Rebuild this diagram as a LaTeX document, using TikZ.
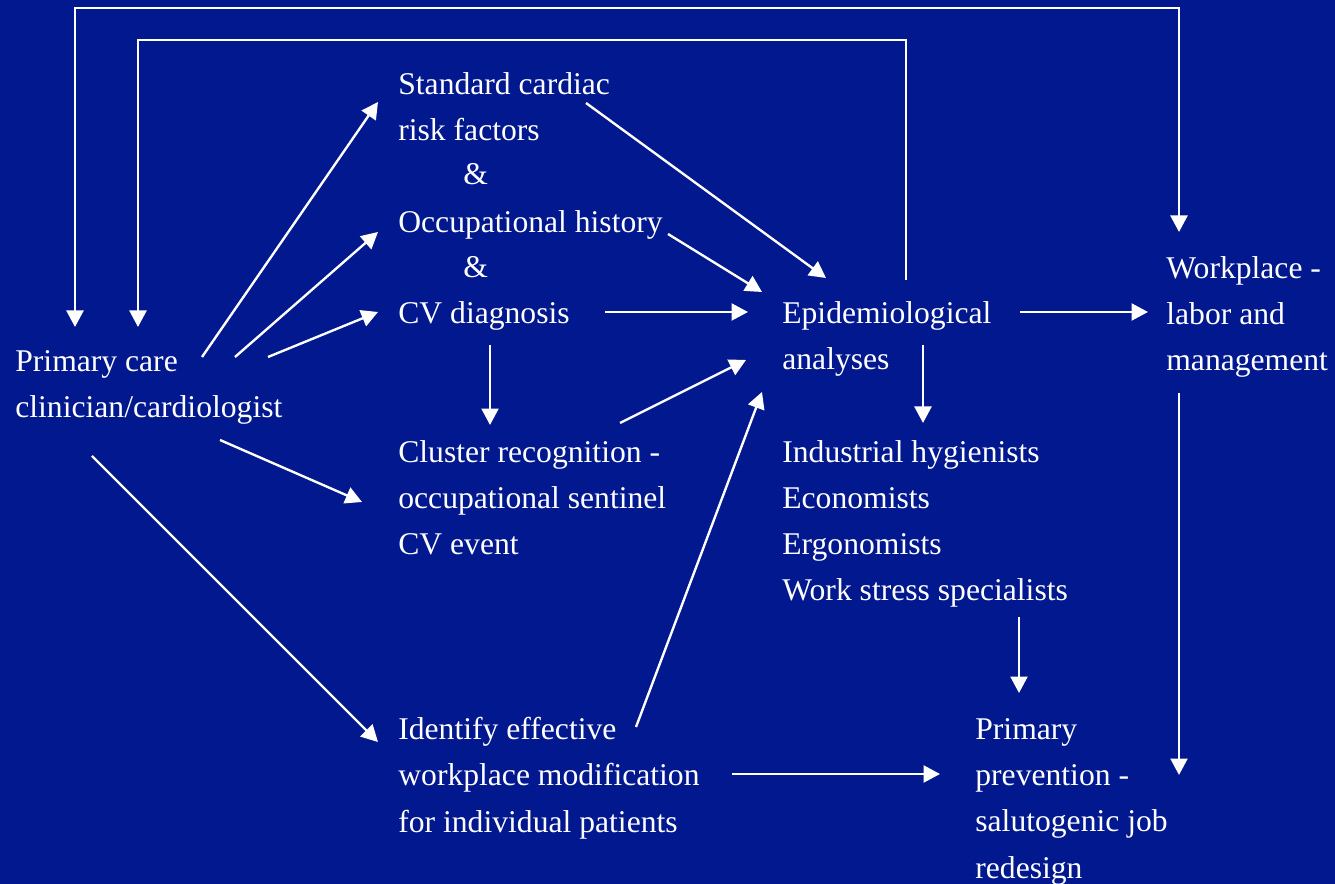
\documentclass[tikz,border=0pt]{standalone}
\usepackage{fontspec}
\setmainfont{Liberation Serif}
\usepackage{tikz}
\usetikzlibrary{arrows.meta, calc}
\definecolor{slideblue}{RGB}{2,24,143}
\tikzstyle{txt}   = [anchor=base west, inner sep=0pt, align=left, text=white,
                     font=\fontsize{18}{26.2}\selectfont]
\tikzstyle{arrow} = [draw=white, line width=1.35pt, -{Triangle[length=0.33cm,width=0.34cm]}]

\begin{document}
\begin{tikzpicture}[x=0.02cm, y=-0.02cm]
  \useasboundingbox (0,0) rectangle (1335,884);
  \fill[slideblue] (0,0) rectangle (1335,884);

  % left column (nodes sit on the baseline of their last line)
  \node[txt] (pc) at (15,418) {Primary care\\clinician/cardiologist};

  % middle column
  \node[txt] (std)  at (398,141) {Standard cardiac\\risk factors};
  \node[txt] (amp1) at (463,185) {\&};
  \node[txt] (occ)  at (398,233) {Occupational history};
  \node[txt] (amp2) at (463,278) {\&};
  \node[txt] (cvd)  at (398,324) {CV diagnosis};
  \node[txt] (clu)  at (398,555) {Cluster recognition -\\occupational sentinel\\CV event};
  \node[txt] (idf)  at (398,832) {Identify effective\\workplace modification\\for individual patients};

  % right columns
  \node[txt] (epi)  at (782,370) {Epidemiological\\analyses};
  \node[txt] (spec) at (782,601) {Industrial hygienists\\Economists\\Ergonomists\\Work stress specialists};
  \node[txt] (wp)   at (1166,371) {Workplace -\\labor and\\management};
  \node[txt] (pp)   at (975,878) {Primary\\prevention -\\salutogenic job\\redesign};

  % feedback loops along the top
  \draw[arrow] ([shift={(124,-90)}]epi.base west) -- ++(0,-240)
    -| ([shift={(123,-91)}]pc.base west);
  \draw[arrow, {Triangle[length=0.33cm,width=0.34cm]}-{Triangle[length=0.33cm,width=0.34cm]}]
    ([shift={(60,-91)}]pc.base west) -- ++(0,-319)
    -| ([shift={(13,-139)}]wp.base west);

  % from the clinician
  \draw[arrow] ([shift={(187,-61)}]pc.base west) -- ([shift={(-20,-39)}]std.base west);
  \draw[arrow] ([shift={(220,-61)}]pc.base west) -- ([shift={(-20,-1)}]occ.base west);
  \draw[arrow] ([shift={(253,-61)}]pc.base west) -- ([shift={(-20,-12)}]cvd.base west);
  \draw[arrow] ([shift={(205,22)}]pc.base west) -- ([shift={(-36,-53)}]clu.base west);
  \draw[arrow] ([shift={(77,38)}]pc.base west) -- ([shift={(-20,-90)}]idf.base west);

  % into the analyses
  \draw[arrow] ([shift={(188,-38)}]std.base west) -- ([shift={(44,-92)}]epi.base west);
  \draw[arrow] ([shift={(270,1)}]occ.base west) -- ([shift={(-20,-78)}]epi.base west);
  \draw[arrow] ([shift={(207,-12)}]cvd.base west) -- ([shift={(-34,-58)}]epi.base west);
  \draw[arrow] ([shift={(92,21)}]cvd.base west) -- ([shift={(92,-130)}]clu.base west);
  \draw[arrow] ([shift={(222,-132)}]clu.base west) -- ([shift={(-36,-10)}]epi.base west);
  \draw[arrow] ([shift={(238,-105)}]idf.base west) -- ([shift={(-20,22)}]epi.base west);

  % towards prevention
  \draw[arrow] ([shift={(334,-58)}]idf.base west) -- ([shift={(-35,-104)}]pp.base west);
  \draw[arrow] ([shift={(238,-58)}]epi.base west) -- ([shift={(-18,-59)}]wp.base west);
  \draw[arrow] ([shift={(141,-25)}]epi.base west) -- ([shift={(141,-178)}]spec.base west);
  \draw[arrow] ([shift={(237,16)}]spec.base west) -- ([shift={(44,-185)}]pp.base west);
  \draw[arrow] ([shift={(13,22)}]wp.base west) -- ([shift={(204,-103)}]pp.base west);
\end{tikzpicture}
\end{document}
